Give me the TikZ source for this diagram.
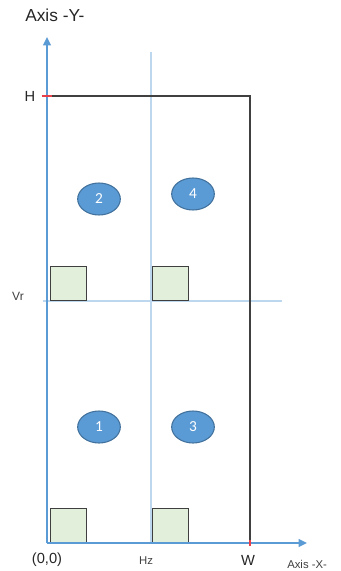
\documentclass[tikz,border=0pt]{standalone}
\usepackage{fontspec}
\setmainfont{Liberation Sans}
\newfontfamily\zonefont{Carlito}
\usetikzlibrary{arrows.meta,shapes.geometric}
\definecolor{axisblue}{HTML}{5B9BD5}
\definecolor{gridblue}{HTML}{BDD7EE}
\definecolor{zoneblue}{HTML}{5B9BD5}
\definecolor{zoneedge}{HTML}{41719C}
\definecolor{padgreen}{HTML}{E2EFDA}
\definecolor{padedge}{HTML}{3F3F3F}
\definecolor{frame}{HTML}{404040}
\definecolor{tick}{HTML}{E8404A}
\tikzset{
  axis/.style={-{Triangle[length=2.2mm,width=2mm]},draw=axisblue,line width=2.2pt},
  guide/.style={draw=gridblue,line width=.9pt},
  border/.style={draw=frame,line width=1.1pt},
  marker/.style={draw=tick,line width=1.1pt},
  pad/.style={rectangle,draw=padedge,fill=padgreen,line width=1pt,
    minimum width=27pt,minimum height=25.5pt,inner sep=0pt,anchor=south west},
  zone/.style={ellipse,draw=zoneedge,fill=zoneblue,line width=.8pt,
    minimum width=32pt,minimum height=24pt,inner sep=0pt,
    text=white,font=\zonefont\fontsize{11.5}{13}\selectfont},
  label/.style={font=\fontsize{11}{13}\selectfont,text=black!85,inner sep=0pt},
  small/.style={font=\fontsize{8.5}{10}\selectfont,text=black!75,inner sep=0pt},
}

\begin{document}
\begin{tikzpicture}[x=.75pt,y=-.75pt]
\useasboundingbox (0,0) rectangle (340,571);

% origin and corner points
\coordinate (origin) at (47,543);
\coordinate (ytip) at (47,37);
\coordinate (xtip) at (307,543);
\coordinate (hpt) at (47,96);
\coordinate (corner) at (250,96);
\coordinate (wpt) at (250,543);

% grid guides
\coordinate (hztop) at (151,52);
\coordinate (hzbot) at (151,543);
\coordinate (vrleft) at (43,301);
\coordinate (vrright) at (282,301);
\draw[guide] (hztop) -- (hzbot);
\draw[guide] (vrleft) -- (vrright);

% plate outline
\draw[border] (hpt) -- (corner) -- (wpt);

% pads in each cell
\node[pad] (padA) at (50,301) {};
\node[pad] (padB) at (152,301) {};
\node[pad] (padC) at (50,543) {};
\node[pad] (padD) at (152,543) {};

% zone numbers
\node[zone] (zone2) at (99,199) {2};
\node[zone] (zone4) at (193,194) {4};
\node[zone] (zone1) at (99,427) {1};
\node[zone] (zone3) at (193,427) {3};

% axes
\draw[axis] (origin) -- (ytip);
\draw[axis] (origin) -- (xtip);

% red ticks at H and W
\draw[marker] ([xshift=-4pt]hpt) -- ([xshift=4pt]hpt);
\draw[marker] ([yshift=2pt]wpt) -- ([yshift=-2pt]wpt);

% axis labels
\node[label,font=\fontsize{13}{15}\selectfont,anchor=west] (ylabel) at (25,15) {Axis -Y-};
\node[label] (hlabel) at (30,96) {H};
\node[small,font=\fontsize{9}{10}\selectfont] (vrlabel) at (18,296) {Vr};
\node[label] (olabel) at (47,560) {(0,0)};
\node[small] (hzlabel) at (146,561) {Hz};
\node[label] (wlabel) at (248,560) {W};
\node[small,anchor=west] (xlabel) at (287,564) {Axis -X-};
\end{tikzpicture}
\end{document}
